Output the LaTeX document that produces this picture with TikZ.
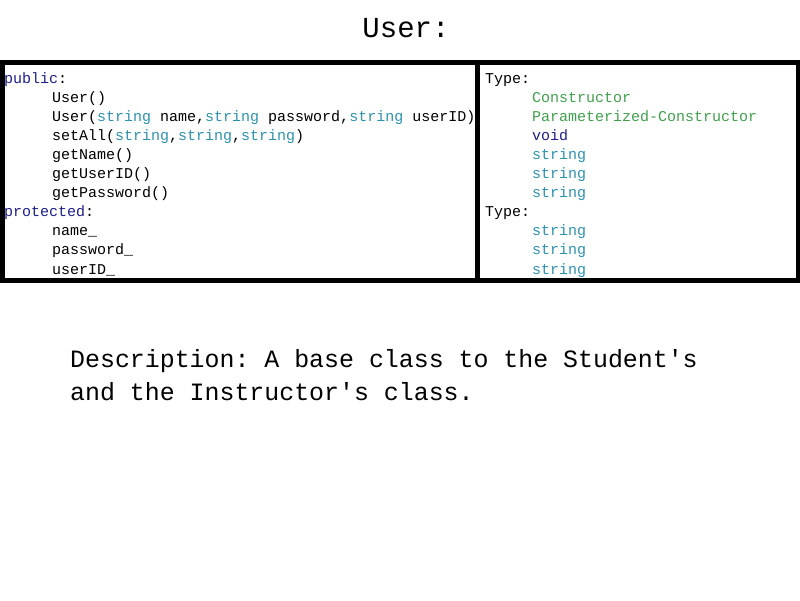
\documentclass[tikz,border=0pt]{standalone}
\usepackage{fontspec}
\setmainfont{Liberation Mono}
\definecolor{kwnavy}{HTML}{1E1E8C}
\definecolor{typeteal}{HTML}{2B91AF}
\definecolor{ctorgreen}{HTML}{3FA04C}
\frenchspacing
\begin{document}
\begin{tikzpicture}[x=1pt,y=-1pt,
	codeline/.style={anchor = base west, inner sep=0pt, font=\fontsize{15}{17}\selectfont},
	bigline/.style={anchor = base west, inner sep=0pt, font=\fontsize{24.9}{30}\selectfont}]
		\useasboundingbox (0,0) rectangle (800,600);
		%
		\node[anchor = base, inner sep=0pt, font=\fontsize{29}{34}\selectfont] (title) at (406,37) {User:};
		%
		\draw[black, line width=5pt] (2,62) rectangle (798,280);
		\draw[black, line width=5pt] (477.5,62)--(477.5,280);
		%
		\node[codeline] (l1) at (4,83) {\textcolor{kwnavy}{public}:};
		\node[codeline] (l2) at (52,102.1) {User()};
		\node[codeline] (l3) at (52,121.2) {User(\textcolor{typeteal}{string} name,\textcolor{typeteal}{string} password,\textcolor{typeteal}{string} userID)};
		\node[codeline] (l4) at (52,140.3) {setAll(\textcolor{typeteal}{string},\textcolor{typeteal}{string},\textcolor{typeteal}{string})};
		\node[codeline] (l5) at (52,159.4) {getName()};
		\node[codeline] (l6) at (52,178.5) {getUserID()};
		\node[codeline] (l7) at (52,197.6) {getPassword()};
		\node[codeline] (l8) at (4,216.7) {\textcolor{kwnavy}{protected}:};
		\node[codeline] (l9) at (52,235.8) {name\_};
		\node[codeline] (l10) at (52,254.9) {password\_};
		\node[codeline] (l11) at (52,274) {userID\_};
		%
		\node[codeline] (r1) at (485,83) {Type:};
		\node[codeline, text=ctorgreen] (r2) at (532,102.1) {Constructor};
		\node[codeline, text=ctorgreen] (r3) at (532,121.2) {Parameterized-Constructor};
		\node[codeline, text=kwnavy] (r4) at (532,140.3) {void};
		\node[codeline, text=typeteal] (r5) at (532,159.4) {string};
		\node[codeline, text=typeteal] (r6) at (532,178.5) {string};
		\node[codeline, text=typeteal] (r7) at (532,197.6) {string};
		\node[codeline] (r8) at (485,216.7) {Type:};
		\node[codeline, text=typeteal] (r9) at (532,235.8) {string};
		\node[codeline, text=typeteal] (r10) at (532,254.9) {string};
		\node[codeline, text=typeteal] (r11) at (532,274) {string};
		%
		\node[bigline] (desc1) at (70,367) {Description: A base class to the Student\textquotesingle s};
		\node[bigline] (desc2) at (70,400) {and the Instructor\textquotesingle s class.};
		%
	\end{tikzpicture}
\end{document}
